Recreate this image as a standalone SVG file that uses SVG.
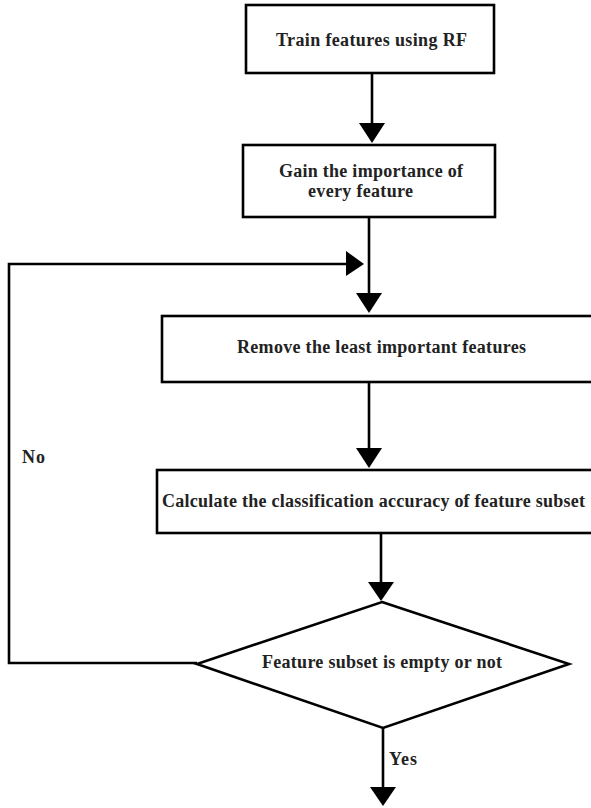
<svg xmlns="http://www.w3.org/2000/svg" width="591" height="808" viewBox="0 0 591 808">
  <defs>
    <style>
      .box { fill: #ffffff; stroke: #000000; stroke-width: 2.6; }
      .link { fill: none; stroke: #000000; stroke-width: 2.6; }
      .head { fill: #000000; }
      .lbl { font-family: "Liberation Serif", "Times New Roman", serif; font-weight: bold; font-size: 18px; fill: #222222; }
    </style>
  </defs>
  <rect width="591" height="808" fill="#ffffff"/>

  <!-- connectors -->
  <g id="connectors">
    <line class="link" x1="372" y1="73" x2="372" y2="126"/>
    <polygon class="head" points="359,123 385,123 372,143"/>

    <line class="link" x1="369" y1="217" x2="369" y2="296"/>
    <polygon class="head" points="356,293 382,293 369,313"/>

    <line class="link" x1="369" y1="382" x2="369" y2="450"/>
    <polygon class="head" points="356,448 382,448 369,468"/>

    <line class="link" x1="381" y1="533" x2="381" y2="584"/>
    <polygon class="head" points="368,582 394,582 381,601"/>

    <line class="link" x1="383" y1="728" x2="383" y2="789"/>
    <polygon class="head" points="370,787 396,787 383,806"/>

    <!-- loop back when the subset is not empty -->
    <polyline class="link" points="197,663 9,663 9,264 348,264"/>
    <polygon class="head" points="346,251 346,276 364,264"/>
    <text class="lbl" x="22" y="463" textLength="23" lengthAdjust="spacing">No</text>
    <text class="lbl" x="389" y="765" textLength="28" lengthAdjust="spacing">Yes</text>
  </g>

  <g id="train">
    <rect class="box" x="246" y="5" width="248" height="68"/>
    <text class="lbl" x="276" y="46" textLength="191" lengthAdjust="spacing">Train features using RF</text>
  </g>

  <g id="importance">
    <rect class="box" x="243" y="145" width="252" height="72"/>
    <text class="lbl" x="279" y="177" textLength="184" lengthAdjust="spacing">Gain the importance of</text>
    <text class="lbl" x="308" y="197" textLength="105" lengthAdjust="spacing">every feature</text>
  </g>

  <g id="remove">
    <rect class="box" x="162" y="316" width="440" height="66"/>
    <text class="lbl" x="237" y="353" textLength="289" lengthAdjust="spacing">Remove the least important features</text>
  </g>

  <g id="accuracy">
    <rect class="box" x="157" y="470" width="445" height="63"/>
    <text class="lbl" x="162" y="507" textLength="423" lengthAdjust="spacing">Calculate the classification accuracy of feature subset</text>
  </g>

  <g id="decision">
    <polygon class="box" points="382,602 569,664 383,728 197,664"/>
    <text class="lbl" x="262" y="668" textLength="240" lengthAdjust="spacing">Feature subset is empty or not</text>
  </g>
</svg>
